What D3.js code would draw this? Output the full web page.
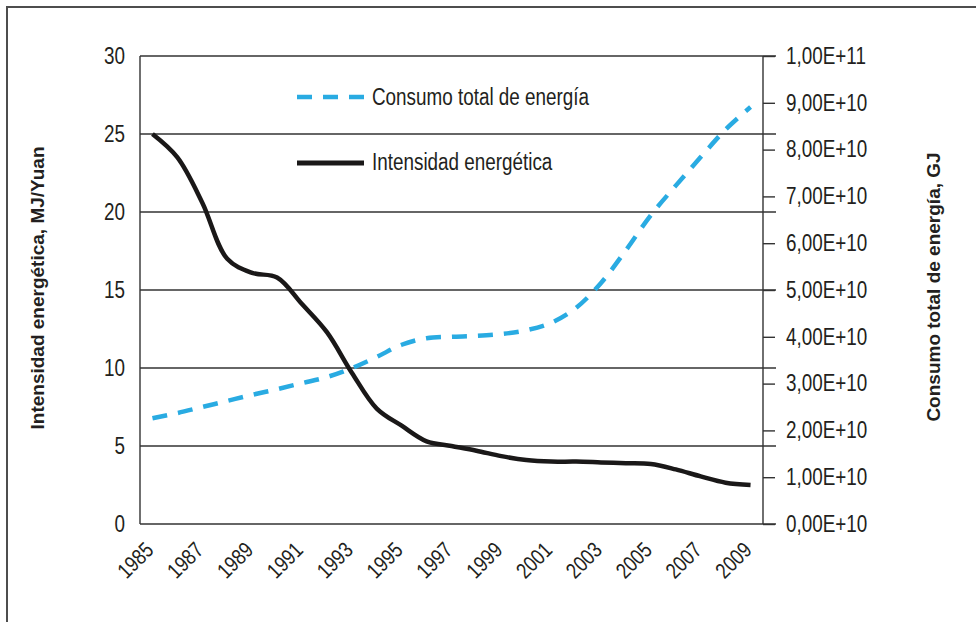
<!DOCTYPE html>
<html>
<head>
<meta charset="utf-8">
<title>Intensidad energetica y consumo total</title>
<script src="https://d3js.org/d3.v7.min.js"></script>
<style>
  body { margin: 0; background: #fff; }
  svg text { font-family: "Liberation Sans", Arial, sans-serif; fill: #231f20; }
  .ttl { font-weight: bold; }
</style>
</head>
<body>
<svg id="vis" width="976" height="622"></svg>
<script>
// years on the x axis
var years = d3.range(1985, 2010);
var yearLabels = ["1985","1987","1989","1991","1993","1995","1997","1999","2001","2003","2005","2007","2009"];

// intensidad energetica, MJ/Yuan (left axis)
var intensidad = [25.0, 23.5, 20.6, 17.0, 16.1, 15.8, 14.1, 12.3, 9.7, 7.4, 6.3, 5.3, 5.0, 4.7, 4.35, 4.1, 4.0, 4.0, 3.95, 3.9, 3.85, 3.5, 3.05, 2.65, 2.5];

// consumo total de energia, GJ (right axis)
var consumo = [22.6e9, 23.7e9, 25.0e9, 26.3e9, 27.6e9, 28.8e9, 30.1e9, 31.4e9, 33.3e9, 35.7e9, 38.3e9, 39.7e9, 40.0e9, 40.2e9, 40.6e9, 41.4e9, 43.0e9, 46.2e9, 51.5e9, 58.5e9, 66.0e9, 72.3e9, 78.4e9, 84.3e9, 89.1e9];

var leftTicks = [0, 5, 10, 15, 20, 25, 30];
var rightTicks = d3.range(0, 11).map(function(i){ return i * 1e10; });

var svg = d3.select("#vis");
var L = 140, R = 763, T = 56, B = 524;

svg.append("rect").attr("width", 976).attr("height", 622).attr("fill", "#fff");
// outer frame (runs off the picture right and bottom)
svg.append("rect").attr("x", 7).attr("y", 7).attr("width", 1000).attr("height", 700)
  .attr("fill", "none").attr("stroke", "#4d4d4d").attr("stroke-width", 2);

var x = d3.scalePoint().domain(years).range([L, R]).padding(0.5);
var yL = d3.scaleLinear().domain([0, 30]).range([B, T]);
var yR = d3.scaleLinear().domain([0, 1e11]).range([B, T]);

// squeeze text horizontally, the original font is a narrow one
function narrow(sel) {
  sel.each(function(){
    var w = this.getComputedTextLength();
    d3.select(this).attr("textLength", w * 0.82).attr("lengthAdjust", "spacingAndGlyphs");
  });
}

// horizontal grid lines
svg.append("g").selectAll("line").data(leftTicks).join("line")
  .attr("x1", L).attr("x2", 776)
  .attr("y1", function(d){ return yL(d); }).attr("y2", function(d){ return yL(d); })
  .attr("stroke", "#333").attr("stroke-width", 1.4);

// left axis
svg.append("line").attr("x1", L).attr("x2", L).attr("y1", T).attr("y2", B)
  .attr("stroke", "#333").attr("stroke-width", 1.4);
svg.append("g").selectAll("text").data(leftTicks).join("text")
  .attr("x", 125).attr("y", function(d){ return yL(d); }).attr("dy", "0.36em")
  .attr("text-anchor", "end").style("font-size", "23px")
  .text(function(d){ return d; })
  .call(narrow);

// right axis
var ra = svg.append("g").attr("transform", "translate(" + R + ",0)")
  .call(d3.axisRight(yR).tickValues(rightTicks).tickSize(12).tickPadding(11)
    .tickFormat(function(d){
      var e = d === 0 ? 10 : Math.floor(Math.log10(d));
      return (d / Math.pow(10, e)).toFixed(2).replace(".", ",") + "E+" + e;
    }));
ra.select(".domain").attr("stroke", "#333").attr("stroke-width", 1.4).attr("d", "M0," + T + "V" + B);
ra.selectAll(".tick line").attr("stroke", "#333").attr("stroke-width", 1.4);
ra.selectAll(".tick text").attr("fill", "#231f20").style("font-size", "23px")
  .style("font-family", "'Liberation Sans', Arial, sans-serif")
  .call(narrow);

// x labels
svg.append("g").selectAll("text").data(yearLabels).join("text")
  .attr("transform", function(d){ return "translate(" + (x(+d) - 3) + ",546) rotate(-45)"; })
  .attr("text-anchor", "end").attr("dy", "0.35em").style("font-size", "22px")
  .text(function(d){ return d; })
  .call(narrow);

// series
var curve = d3.curveCatmullRom.alpha(0.5);
svg.append("path").datum(consumo)
  .attr("fill", "none").attr("stroke", "#29abe2").attr("stroke-width", 4.5)
  .attr("stroke-dasharray", "15,11")
  .attr("d", d3.line().curve(curve).x(function(d, i){ return x(years[i]); }).y(function(d){ return yR(d); }));
svg.append("path").datum(intensidad)
  .attr("fill", "none").attr("stroke", "#1a1818").attr("stroke-width", 4.5)
  .attr("d", d3.line().curve(curve).x(function(d, i){ return x(years[i]); }).y(function(d){ return yL(d); }));

// legend
svg.append("line").attr("x1", 297).attr("x2", 366).attr("y1", 97).attr("y2", 97)
  .attr("stroke", "#29abe2").attr("stroke-width", 4.5).attr("stroke-dasharray", "15,11");
svg.append("text").attr("x", 372).attr("y", 105).style("font-size", "23px").text("Consumo total de energía").call(narrow);
svg.append("line").attr("x1", 297).attr("x2", 364).attr("y1", 163).attr("y2", 163)
  .attr("stroke", "#1a1818").attr("stroke-width", 5);
svg.append("text").attr("x", 372).attr("y", 170).style("font-size", "23px").text("Intensidad energética").call(narrow);

// axis titles
svg.append("text").attr("class", "ttl").attr("text-anchor", "middle")
  .attr("transform", "translate(44,288) rotate(-90)").style("font-size", "19px")
  .text("Intensidad energética, MJ/Yuan");
svg.append("text").attr("class", "ttl").attr("text-anchor", "middle")
  .attr("transform", "translate(940,287) rotate(-90)").style("font-size", "19px")
  .text("Consumo total de energía, GJ");
</script>
</body>
</html>
